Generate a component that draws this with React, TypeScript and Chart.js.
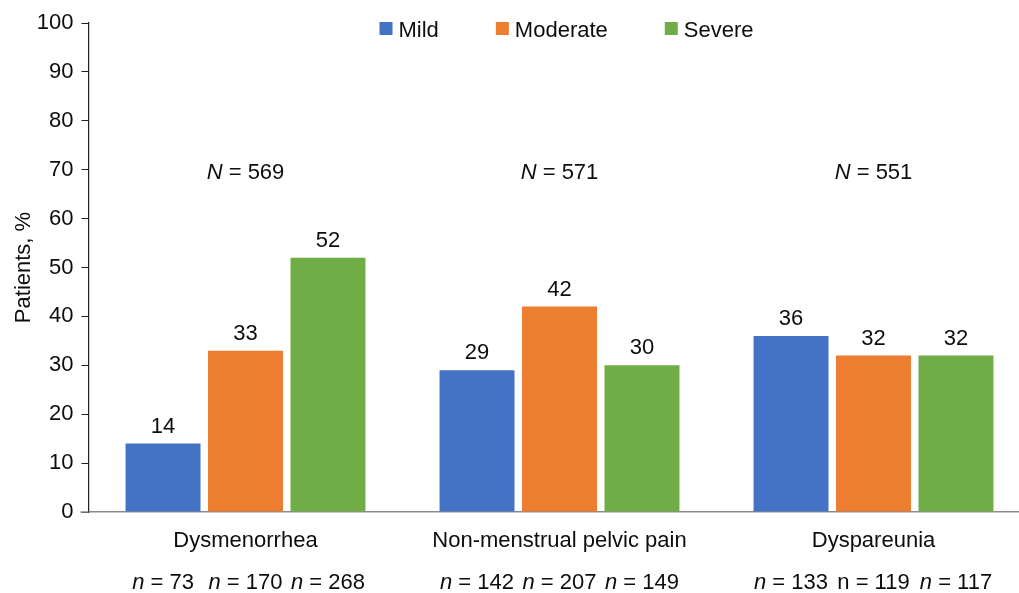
import React, { useEffect, useRef } from "react";
import { Chart, registerables } from "chart.js";

Chart.register(...registerables);

const categories = ["Dysmenorrhea", "Non-menstrual pelvic pain", "Dyspareunia"];
const seriesNames = ["Mild", "Moderate", "Severe"];
const mildValues = [14, 29, 36];
const moderateValues = [33, 42, 32];
const severeValues = [52, 30, 32];
const totalN = [569, 571, 551];
const mildN = [73, 142, 133];
const moderateN = [170, 207, 119];
const severeN = [268, 149, 117];
// n labels drawn without italic "n" (category index, series index)
const plainNLabels = [[2, 1]];
const yTicks = [0, 10, 20, 30, 40, 50, 60, 70, 80, 90, 100];
const colors = ["#4472C4", "#ED7D31", "#70AD47"];

const FONT = "'Liberation Sans', Arial, sans-serif";
const TEXT = "#0d0d0d";

function drawMixed(ctx: CanvasRenderingContext2D, italicPart: string, rest: string, cx: number, y: number, italic: boolean, size: number) {
  ctx.save();
  ctx.textBaseline = "alphabetic";
  ctx.textAlign = "left";
  const fItal = `${italic ? "italic " : ""}${size}px ${FONT}`;
  const fNorm = `${size}px ${FONT}`;
  ctx.font = fItal;
  const w1 = ctx.measureText(italicPart).width;
  ctx.font = fNorm;
  const w2 = ctx.measureText(rest).width;
  const x0 = cx - (w1 + w2) / 2;
  ctx.fillStyle = TEXT;
  ctx.font = fItal;
  ctx.fillText(italicPart, x0, y);
  ctx.font = fNorm;
  ctx.fillText(rest, x0 + w1, y);
  ctx.restore();
}

const annotationsPlugin = {
  id: "annotations",
  afterDatasetsDraw(chart: any) {
    const ctx: CanvasRenderingContext2D = chart.ctx;
    const xs = chart.scales.x;
    const ys = chart.scales.y;
    const area = chart.chartArea;
    const nArrays = [mildN, moderateN, severeN];

    // value labels
    ctx.save();
    ctx.font = `22px ${FONT}`;
    ctx.fillStyle = TEXT;
    ctx.textAlign = "center";
    ctx.textBaseline = "alphabetic";
    chart.data.datasets.forEach((ds: any, di: number) => {
      const meta = chart.getDatasetMeta(di);
      meta.data.forEach((el: any, i: number) => {
        ctx.fillText(String(ds.data[i]), el.x, el.y - 11);
      });
    });
    ctx.restore();

    // N = labels
    categories.forEach((_, i) => {
      const cx = xs.getPixelForValue(i);
      drawMixed(ctx, "N", ` = ${totalN[i]}`, cx, ys.getPixelForValue(68), true, 22);
    });

    // n = labels under bars
    chart.data.datasets.forEach((_: any, di: number) => {
      const meta = chart.getDatasetMeta(di);
      meta.data.forEach((el: any, i: number) => {
        const plain = plainNLabels.some((p) => p[0] === i && p[1] === di);
        drawMixed(ctx, "n", ` = ${nArrays[di][i]}`, el.x, area.bottom + 77, !plain, 22);
      });
    });

    // legend
    ctx.save();
    ctx.font = `22px ${FONT}`;
    ctx.textBaseline = "alphabetic";
    ctx.textAlign = "left";
    const box = 13;
    const gapText = 6;
    const gapItem = 57;
    const widths = seriesNames.map((s) => box + gapText + ctx.measureText(s).width);
    const total = widths.reduce((a, b) => a + b, 0) + gapItem * (seriesNames.length - 1);
    let x = (area.left + area.right) / 2 + 7 - total / 2;
    const yBase = area.top + 13.5;
    seriesNames.forEach((s, i) => {
      ctx.fillStyle = colors[i];
      ctx.fillRect(x, yBase - 14.5, box, box);
      ctx.fillStyle = TEXT;
      ctx.fillText(s, x + box + gapText, yBase);
      x += widths[i] + gapItem;
    });
    ctx.restore();

    // extend x axis line slightly left of the y axis
    ctx.save();
    ctx.strokeStyle = "#8a8a8a";
    ctx.lineWidth = 1.5;
    ctx.beginPath();
    ctx.moveTo(area.left - 8, area.bottom);
    ctx.lineTo(area.left, area.bottom);
    ctx.stroke();
    ctx.restore();
  },
};

export default function App() {
  const ref = useRef<HTMLCanvasElement | null>(null);
  useEffect(() => {
    document.body.style.margin = "0";
    const canvas = ref.current!;
    const chart = new Chart(canvas, {
      type: "bar",
      data: {
        labels: categories,
        datasets: [
          { label: seriesNames[0], data: mildValues, backgroundColor: colors[0] },
          { label: seriesNames[1], data: moderateValues, backgroundColor: colors[1] },
          { label: seriesNames[2], data: severeValues, backgroundColor: colors[2] },
        ],
      },
      options: {
        responsive: false,
        animation: false,
        devicePixelRatio: 1,
        datasets: { bar: { categoryPercentage: 0.788, barPercentage: 0.909 } },
        layout: { padding: { top: 23, right: 9.5, left: 0, bottom: 0 } },
        plugins: { legend: { display: false }, tooltip: { enabled: false } },
        scales: {
          x: {
            grid: { display: false, drawTicks: false },
            border: { display: true, color: "#8a8a8a", width: 1.5 },
            ticks: { font: { size: 22, family: FONT }, color: TEXT, padding: 16, maxRotation: 0, autoSkip: false },
            afterFit: (s: any) => { s.height = 81; },
          },
          y: {
            min: 0,
            max: 100,
            afterBuildTicks: (s: any) => { s.ticks = yTicks.map((v) => ({ value: v })); },
            grid: { display: true, drawOnChartArea: false, drawTicks: true, tickLength: 7, color: "#222" },
            border: { display: true, color: "#222", width: 1.2 },
            ticks: { font: { size: 22, family: FONT }, color: TEXT, padding: 8 },
            title: { display: true, text: "Patients, %", font: { size: 22, family: FONT }, color: TEXT, padding: { top: 11, bottom: 0 } },
            afterFit: (s: any) => { s.width = 88.5; },
          },
        },
      },
      plugins: [annotationsPlugin],
    });
    return () => chart.destroy();
  }, []);
  return (
    <div style={{ position: "fixed", left: 0, top: 0, width: 1019, height: 593, overflow: "hidden", background: "#fff" }}>
      <canvas ref={ref} width={1040} height={593} style={{ width: 1040, height: 593, display: "block" }} />
    </div>
  );
}
